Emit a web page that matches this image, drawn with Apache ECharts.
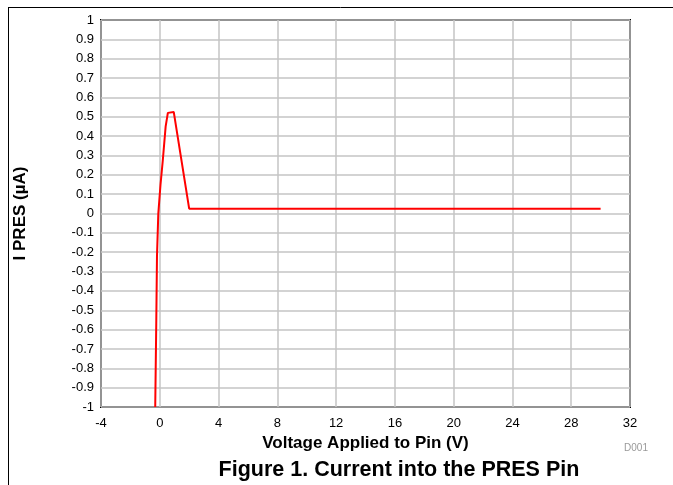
<!DOCTYPE html>
<html>
<head>
<meta charset="utf-8">
<script src="https://cdn.jsdelivr.net/npm/echarts@6/dist/echarts.min.js"></script>
<style>
html, body { margin: 0; padding: 0; background: #fff; }
#main { width: 673px; height: 485px; }
</style>
</head>
<body>
<div id="main"></div>
<script>
// curve: voltage (V) vs current (uA)
var voltage = [-0.31, -0.24, -0.19, -0.1, 0.05, 0.2, 0.4, 0.55, 0.95, 2, 30];
var current = [-1, -0.57, -0.22, 0.0, 0.15, 0.27, 0.45, 0.52, 0.525, 0.025, 0.025];

var font = 'Liberation Sans, Arial, sans-serif';
var chart = echarts.init(document.getElementById('main'));

chart.setOption({
    animation: false,
    grid: { left: 101, top: 20, width: 529, height: 387, show: true, borderColor: '#000', borderWidth: 2, containLabel: false },
    xAxis: {
        type: 'value', min: -4, max: 32, interval: 4,
        name: 'Voltage Applied to Pin (V)', nameLocation: 'middle', nameGap: 22,
        nameTextStyle: { fontFamily: font, fontSize: 17, fontWeight: 'bold', color: '#000' },
        axisLine: { show: false },
        axisTick: { show: false },
        axisLabel: { fontFamily: font, fontSize: 13, color: '#000', margin: 10 },
        splitLine: { lineStyle: { color: '#c4c4c4', width: 1.5 } }
    },
    yAxis: {
        type: 'value', min: -1, max: 1, interval: 0.1,
        name: 'I PRES (\u00b5A)', nameLocation: 'middle', nameGap: 72,
        nameTextStyle: { fontFamily: font, fontSize: 17, fontWeight: 'bold', color: '#000' },
        axisLine: { show: false },
        axisTick: { show: false },
        axisLabel: {
            fontFamily: font, fontSize: 13, color: '#000', margin: 7,
            formatter: function (v) { return String(Math.round(v * 10) / 10); }
        },
        splitLine: { lineStyle: { color: '#c4c4c4', width: 1.5 } }
    },
    series: [{
        type: 'line',
        data: voltage.map(function (v, i) { return [v, current[i]]; }),
        showSymbol: false,
        lineStyle: { color: '#ff0000', width: 2 },
        clip: true
    }],
    graphic: [
        { type: 'line', shape: { x1: 8, y1: 7.5, x2: 673, y2: 7.5 }, style: { stroke: '#000', lineWidth: 1 } },
        { type: 'line', shape: { x1: 8.5, y1: 7, x2: 8.5, y2: 485 }, style: { stroke: '#000', lineWidth: 1 } },
        { type: 'text', x: 636, y: 448, style: { text: 'D001', fontFamily: font, fontSize: 10, fill: '#999', align: 'center', verticalAlign: 'middle' } },
        { type: 'text', x: 399, y: 470, style: { text: 'Figure 1. Current into the PRES Pin', fontFamily: font, fontSize: 21.5, fontWeight: 'bold', fill: '#000', align: 'center', verticalAlign: 'middle' } }
    ]
});
</script>
</body>
</html>
